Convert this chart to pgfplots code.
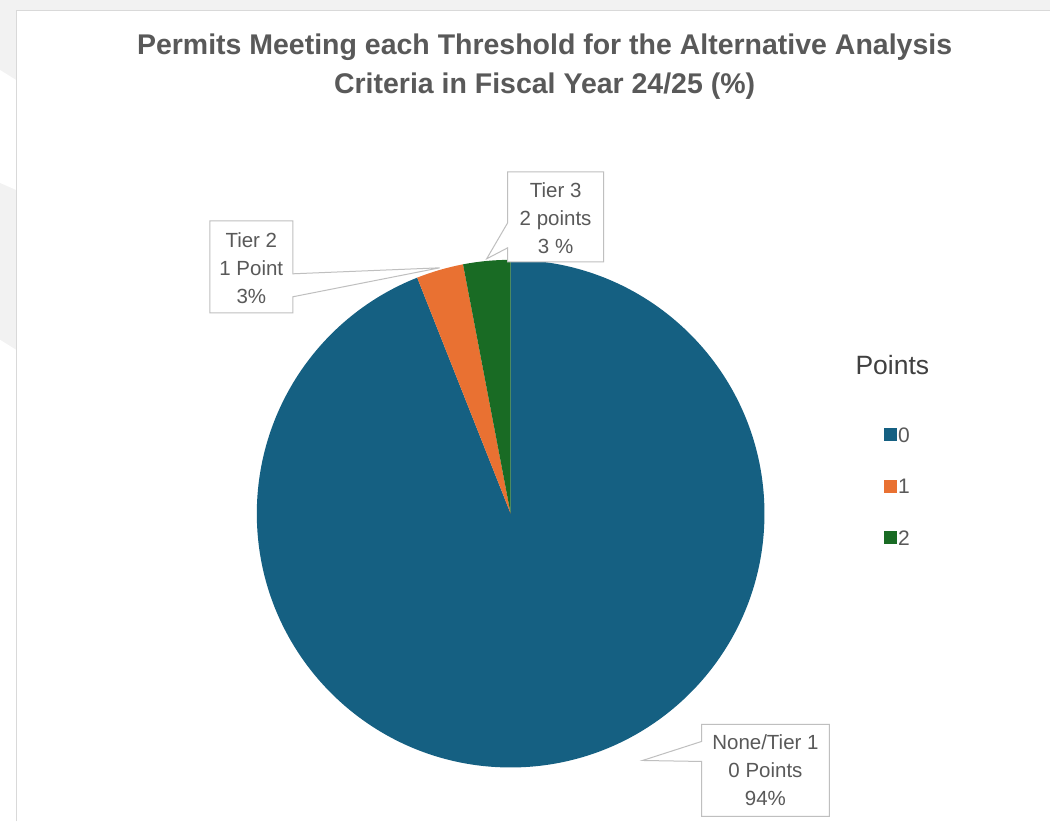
\documentclass[border=0pt]{standalone}
\usepackage{pgfplots}
\usepackage{pgfplotstable}
\pgfplotsset{compat=1.18}
\usepackage{fontspec}
\setmainfont{Liberation Sans}
\definecolor{c0}{HTML}{156082}
\definecolor{c1}{HTML}{E97132}
\definecolor{c2}{HTML}{196B24}
\definecolor{txt}{HTML}{595959}
\definecolor{dtxt}{HTML}{404040}
\definecolor{boxline}{HTML}{BFBFBF}
\definecolor{bg}{HTML}{F2F2F2}
\definecolor{framec}{HTML}{D9D9D9}

\pgfplotstableread{
points value
0 94
1 3
2 3
}\piedata

\begin{document}
\begin{tikzpicture}
\pgfplotstablegetelem{0}{value}\of\piedata \pgfmathsetmacro{\va}{\pgfplotsretval}
\pgfplotstablegetelem{1}{value}\of\piedata \pgfmathsetmacro{\vb}{\pgfplotsretval}
\pgfplotstablegetelem{2}{value}\of\piedata \pgfmathsetmacro{\vc}{\pgfplotsretval}
\pgfmathsetmacro{\tot}{\va+\vb+\vc}
\pgfmathsetmacro{\aA}{90}
\pgfmathsetmacro{\aB}{90-360*(\va/\tot)}
\pgfmathsetmacro{\aC}{\aB-360*(\vb/\tot)}
\pgfmathsetmacro{\aD}{\aC-360*(\vc/\tot)}
\begin{axis}[
  at={(0,0)}, anchor=south west,
  scale only axis, width=1051pt, height=822pt,
  xmin=0, xmax=1051, ymin=0, ymax=822, y dir=reverse,
  axis lines=none, clip=false,
  legend image code/.code={\fill[#1] (0pt,-6.5pt) rectangle (13pt,6.5pt);},
  legend cell align=left,
  legend style={at={(axis cs:884,426)}, anchor=north west, draw=none, fill=none,
    font=\fontsize{21}{24}\selectfont\color{txt}, row sep=33.5pt, inner sep=0pt,
    nodes={inner sep=1.5pt, text height=15pt, text depth=0pt}},
]
\fill[bg] (0,0) rectangle (1051,822);
\fill[white] (0,70) -- (16,80) -- (16,190) -- (0,183) -- cycle;
\fill[white] (0,340) -- (16,350) -- (16,822) -- (0,822) -- cycle;
\fill[white] (16,10) rectangle (1051,822);
\draw[framec, line width=1.5pt] (16.5,822) -- (16.5,10.5) -- (1051,10.5);

\addplot[draw=none, fill=c0] coordinates {(511,514)} -- ++(\aA:254pt) arc[start angle=\aA, end angle=\aB, radius=254pt] -- cycle;
\addlegendentry{0}
\addplot[draw=none, fill=c1] coordinates {(511,514)} -- ++(\aB:254pt) arc[start angle=\aB, end angle=\aC, radius=254pt] -- cycle;
\addlegendentry{1}
\addplot[draw=none, fill=c2] coordinates {(511,514)} -- ++(\aC:254pt) arc[start angle=\aC, end angle=\aD, radius=254pt] -- cycle;
\addlegendentry{2}

% callout boxes
\draw[boxline, fill=white, line width=1pt] (210,221) -- (293,221) -- (293,274) -- (440,268) -- (293,297) -- (293,313) -- (210,313) -- cycle;
\draw[boxline, fill=white, line width=1pt] (508,172) -- (604,172) -- (604,262) -- (508,262) -- (508,248) -- (487,259) -- (508,223) -- cycle;
\draw[boxline, fill=white, line width=1pt] (702,725) -- (830,725) -- (830,817) -- (702,817) -- (702,762) -- (643,761) -- (702,742) -- cycle;

\node[align=center, text=txt, font=\fontsize{20.5}{28}\selectfont] at (251.5,268) {Tier 2\\1 Point\\3\%};
\node[align=center, text=txt, font=\fontsize{20.5}{28}\selectfont] at (556,218) {Tier 3\\2 points\\3 \%};
\node[align=center, text=txt, font=\fontsize{20.5}{28}\selectfont] at (766,771) {None/Tier 1\\0 Points\\94\%};

\node[text=dtxt, font=\fontsize{26.5}{30}\selectfont] at (893,365) {Points};
\node[align=center, text=txt, font=\bfseries\fontsize{28.5}{39}\selectfont] at (545,66.5)
  {Permits Meeting each Threshold for the Alternative Analysis\\Criteria in Fiscal Year 24/25 (\%)};
\end{axis}
\end{tikzpicture}
\end{document}
